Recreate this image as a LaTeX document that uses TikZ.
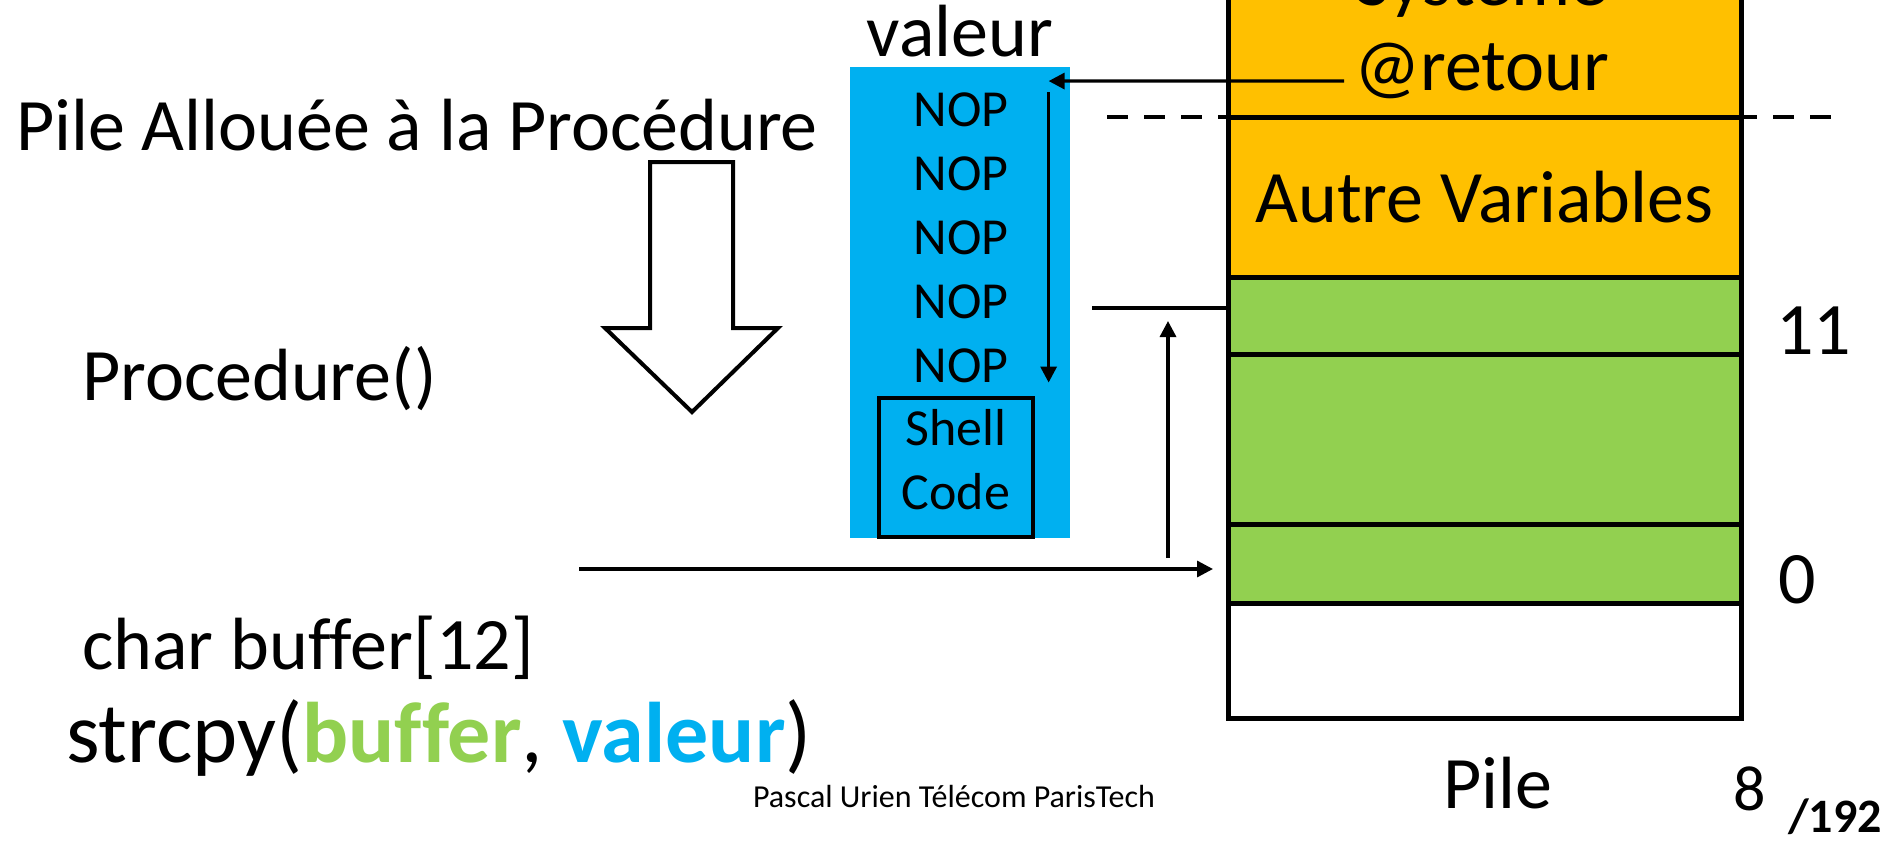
\documentclass[tikz,border=0pt]{standalone}
\usepackage{fontspec}
\setmainfont{Carlito}[Ligatures=NoCommon]
\usetikzlibrary{positioning,arrows.meta}

\definecolor{jaune}{HTML}{FFC000}
\definecolor{vert}{HTML}{92D050}
\definecolor{bleu}{HTML}{00B0F0}

\begin{document}
\begin{tikzpicture}[x=1pt,y=-1pt,>={Triangle[length=16pt,width=16pt]},
	txt/.style={inner sep=0pt,font=\fontsize{74}{88}\selectfont},
	petit/.style={inner sep=0pt,font=\fontsize{52}{64}\selectfont},
	cell/.style={draw,line width=5pt,minimum width=513pt,inner sep=0pt,outer sep=0pt},
	fleche/.style={->,line width=3.3pt}]
	\useasboundingbox (0,0) rectangle (1891,841);

	% la pile
	\node[cell,fill=jaune,minimum height=177pt] (p1) at (1484.5,28.5) {};
	\node[cell,fill=jaune,minimum height=160pt,txt] (p2) [below=0pt of p1] {Autre Variables};
	\node[cell,fill=vert,minimum height=77pt] (p3) [below=0pt of p2] {};
	\node[cell,fill=vert,minimum height=170pt] (p4) [below=0pt of p3] {};
	\node[cell,fill=vert,minimum height=79pt] (p5) [below=0pt of p4] {};
	\node[cell,fill=white,minimum height=115pt] (p6) [below=0pt of p5] {};
	\node[txt,anchor=base] (sys) at (1482,5) {Système};
	\node[txt,anchor=base] (ret) at (1482,90) {@retour};
	\node[txt,anchor=base west] (l11) at ([xshift=35pt]p3.south east) {11};
	\node[txt,anchor=base west] (l0) at ([xshift=37pt]p5.south east) {0};
	\node[txt,anchor=base] (pile) at (1498,808) {Pile};

	% valeur
	\node[fill=bleu,minimum width=220pt,minimum height=471pt,inner sep=0pt] (val) at (960,302.5) {};
	\node[txt,anchor=base] (vlab) at ([yshift=10pt]val.north) {valeur};
	\begin{scope}[node distance=64pt,on grid]
		\node[petit,anchor=base] (n1) at (961,126) {NOP};
		\node[petit] (n2) [below=of n1] {NOP};
		\node[petit] (n3) [below=of n2] {NOP};
		\node[petit] (n4) [below=of n3] {NOP};
		\node[petit] (n5) [below=of n4] {NOP};
	\end{scope}
	\node[draw,line width=4pt,minimum width=154pt,minimum height=139pt] (sc) at (956,467.5) {};
	\node[petit,align=center] (shell) at ([yshift=8pt]sc.center) {Shell\\Code};

	% fleches
	\coordinate (t1) at ([xshift=40pt,yshift=11pt]n1.north east);
	\draw[fleche] ([xshift=-10pt,yshift=9pt]ret.base west) -- (t1);
	\draw[fleche] ([xshift=40pt]n1.north east) -- ([xshift=40pt]n5.south east);
	\draw[line width=4pt,dash pattern=on 21pt off 16pt] ([xshift=-121pt]p1.south west) -- ([xshift=98pt]p1.south east);
	\coordinate (b11) at (1092,308);
	\coordinate (b0) at (1168,558);
	\coordinate (a0) at (579,569);
	\draw[line width=4pt] (b11) -- (b11 -| p3.west);
	\draw[fleche,shorten >=13pt] (b0) -- (b0 |- b11);
	\draw[fleche,shorten >=15pt] (a0) -- (a0 -| p5.west);

	% fleche creuse
	\draw[line width=4pt,fill=white] (650,162) -- (733,162) -- (733,328) -- (778,328)
		-- (692,412) -- (605,328) -- (650,328) -- cycle;

	% textes
	\node[txt,anchor=base west] (titre) at (16,150) {Pile Allouée à la Procédure};
	\node[txt,anchor=base west] (proc) at (82,400) {Procedure()};
	\node[txt,anchor=base west] (decl) at (82,669) {char buffer[12]};
	\node[anchor=base west,inner sep=0pt,font=\fontsize{86}{102}\selectfont] (cpy) at (66,762)
		{strcpy(\textcolor{vert}{\textbf{buffer}}, \textcolor{bleu}{\textbf{valeur}})};
	\node[anchor=base,inner sep=0pt,font=\fontsize{32}{38}\selectfont] (auteur) at (954,807) {Pascal Urien Télécom ParisTech};
	\node[anchor=base west,inner sep=0pt,font=\fontsize{64}{76}\selectfont] (num) at (1733,810) {8};
	\node[anchor=base west,inner sep=0pt,font=\fontsize{48}{58}\selectfont\bfseries] (tot) at (1788,832) {/192};
\end{tikzpicture}
\end{document}
